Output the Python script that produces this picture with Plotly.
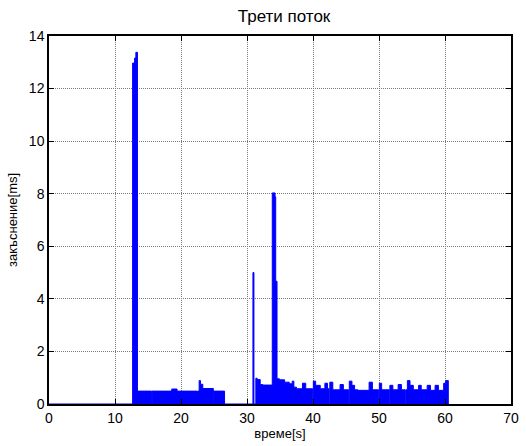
import plotly.graph_objects as go

# time (s) where each step starts, and delay value (ms) held until next time
time_s = [0, 12.67, 12.97, 13.16, 13.40, 15.55, 15.62, 18.6, 19.4, 22.5, 22.58, 22.75, 22.95, 23.3,
          24.9, 24.98, 26.6, 30.9, 31.05, 31.34, 31.54, 32.0, 32.4, 33.83, 34.25, 34.35, 34.55,
          34.9, 35.7, 36.4, 36.85, 37.1, 37.5, 38.4, 38.9, 39.95, 40.05, 40.4, 41.1, 41.8, 42.2,
          42.45, 42.55, 43.0, 43.3, 44.1, 44.6, 45.4, 45.5, 45.9, 46.3, 46.8, 48.5, 49.0, 49.95,
          50.05, 50.4, 51.55, 51.65, 52.1, 52.9, 53.4, 53.95, 54.05, 54.3, 54.7, 55.2, 56.0, 56.4,
          57.3, 57.8, 58.5, 59.0, 59.8, 60.1, 60.5]
delay_ms = [0, 12.97, 13.16, 13.38, 0.49, 0.0, 0.49, 0.57, 0.49, 0.0, 0.49, 0.89, 0.75, 0.59,
            0.0, 0.49, 0.0, 5.0, 0.0, 0.98, 0.93, 0.74, 0.72, 8.03, 7.88, 4.67, 0.96,
            0.92, 0.83, 0.77, 0.87, 0.64, 0.58, 0.79, 0.58, 0.0, 0.87, 0.71, 0.58, 0.79, 0.58,
            0.0, 0.83, 0.54, 0.54, 0.74, 0.54, 0.0, 0.87, 0.71, 0.54, 0.52, 0.83, 0.54, 0.0,
            0.79, 0.54, 0.0, 0.71, 0.54, 0.74, 0.54, 0.0, 0.54, 0.89, 0.71, 0.54, 0.71, 0.54,
            0.71, 0.52, 0.71, 0.52, 0.79, 0.89, 0.0]

x_ticks = [0, 10, 20, 30, 40, 50, 60, 70]
y_ticks = [0, 2, 4, 6, 8, 10, 12, 14]

fig = go.Figure()
fig.add_trace(go.Scatter(
    x=time_s, y=delay_ms, mode="lines", line=dict(color="#0000ff", width=1, shape="hv"),
    fill="tozeroy", fillcolor="#0000ff", showlegend=False, hoverinfo="skip"))

font = "Arial, Liberation Sans, sans-serif"
axis_common = dict(
    showline=True, linecolor="black", linewidth=1.5, mirror="allticks",
    ticks="inside", ticklen=5, tickcolor="black",
    showgrid=True, gridcolor="#7a7a7a", griddash="1px,1px", gridwidth=1,
    zeroline=False, tickfont=dict(family=font, size=14, color="black"),
)
fig.update_xaxes(range=[0, 70], tickvals=x_ticks, **axis_common,
                 title=dict(text="време[s]", font=dict(family=font, size=13, color="black"), standoff=4))
fig.update_yaxes(range=[0, 14], tickvals=y_ticks, **axis_common,
                 title=dict(text="закъснение[ms]", font=dict(family=font, size=13, color="black"), standoff=8))
fig.update_layout(
    width=526, height=446,
    margin=dict(l=49, r=7, t=36, b=39),
    paper_bgcolor="white", plot_bgcolor="white",
    title=dict(text="Трети поток", x=0.54, xanchor="center", y=0.965, yanchor="middle",
               font=dict(family=font, size=17, color="black")),
)
fig.write_html("out.html")
